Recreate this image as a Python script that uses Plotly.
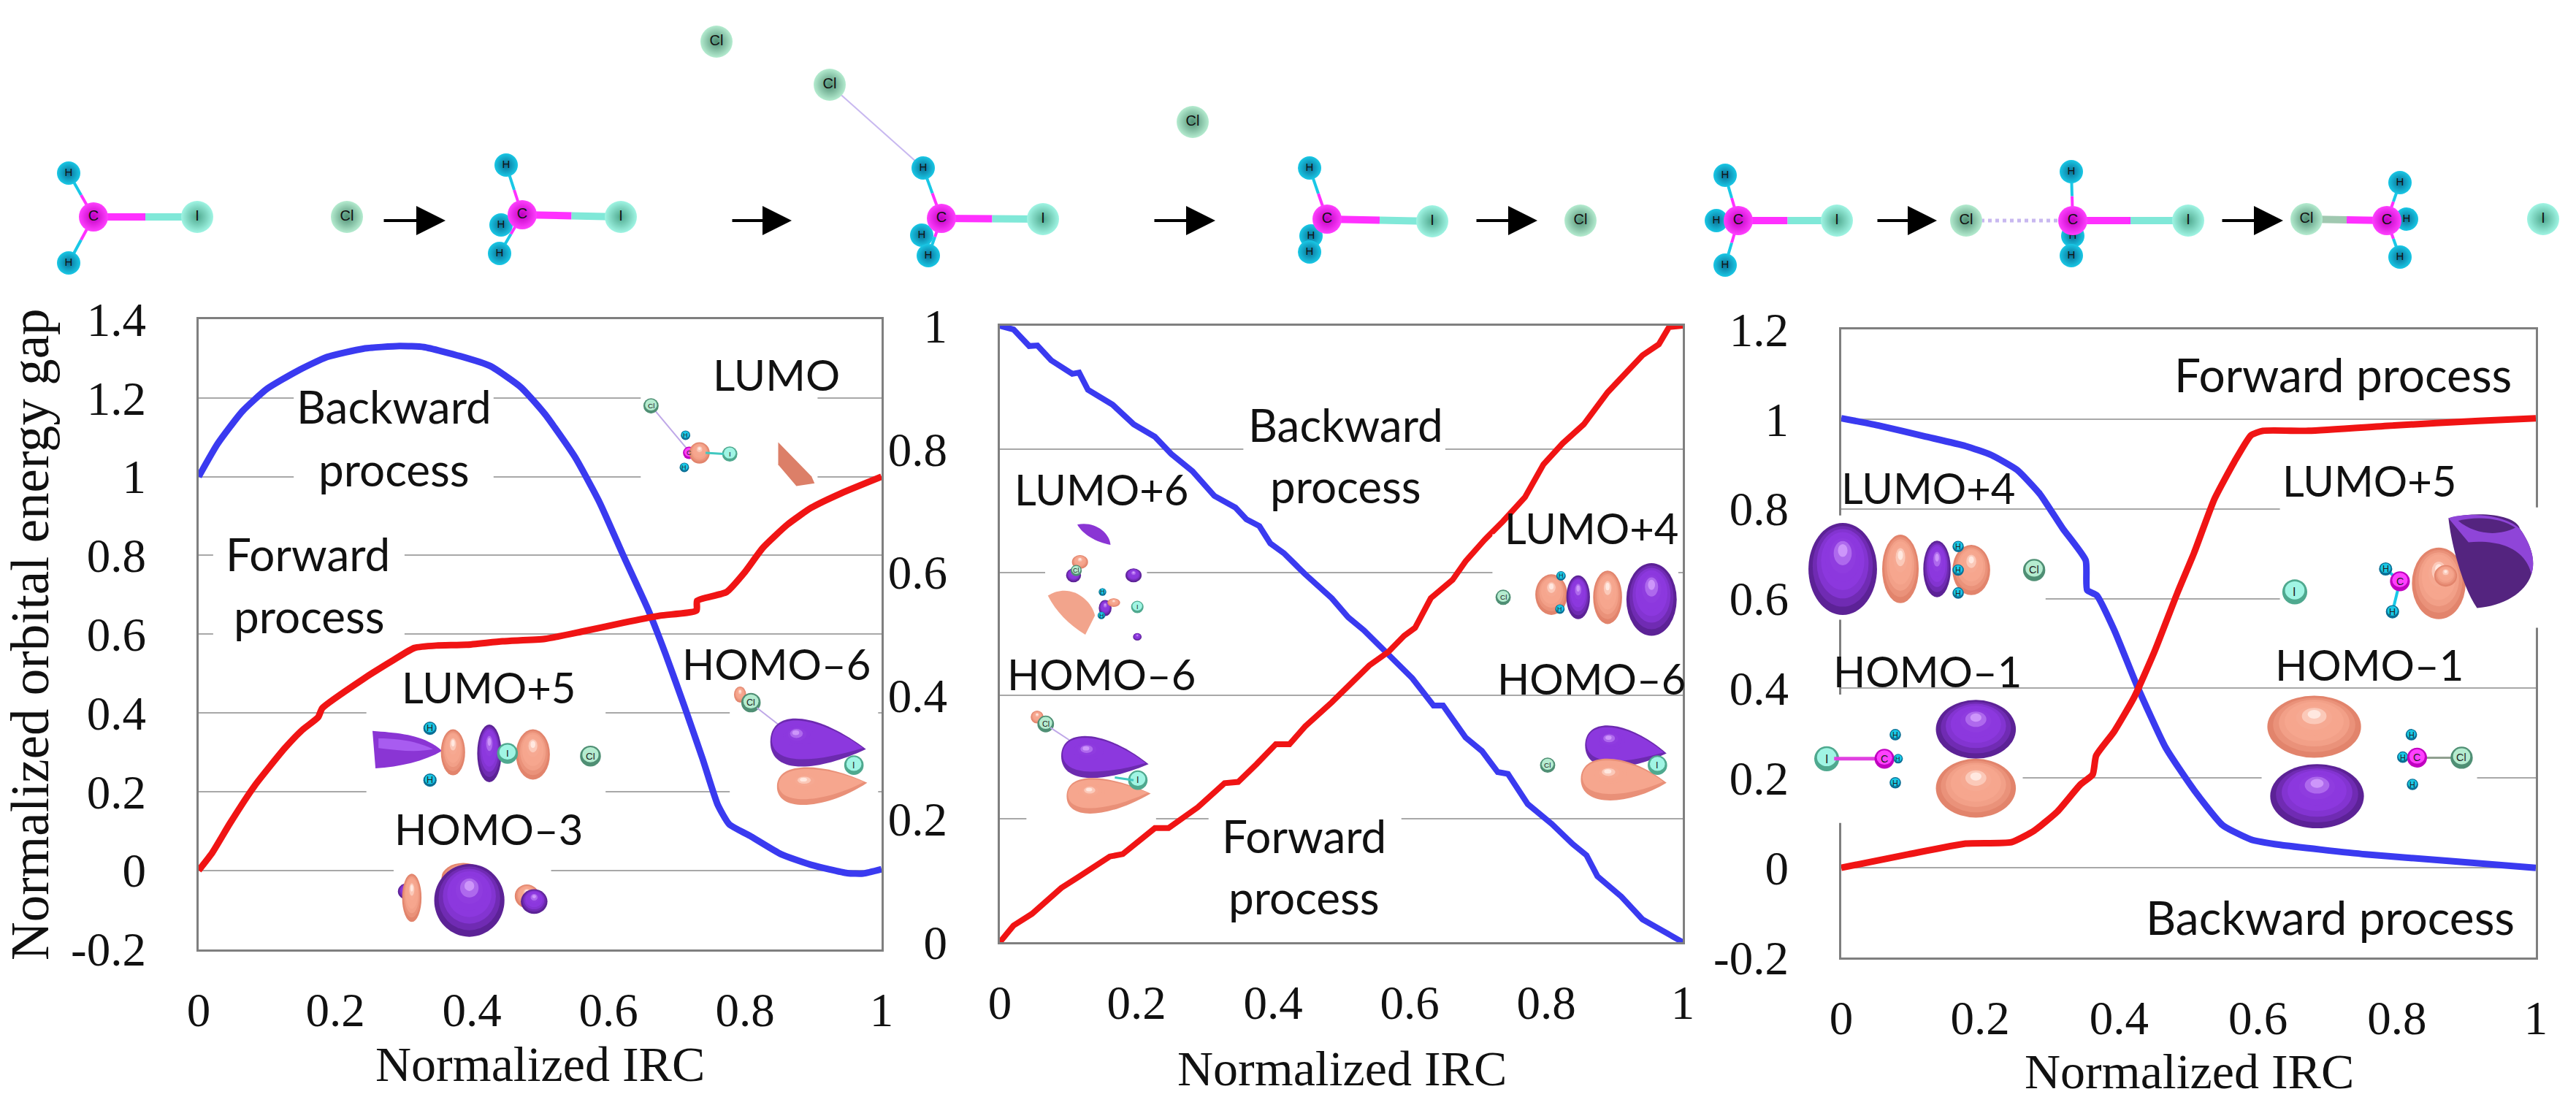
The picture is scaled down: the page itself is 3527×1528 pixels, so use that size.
import plotly.graph_objects as go

W, H = 3527, 1528

# ---------- chart data ----------
p1_blue_x = [0,.028,.064,.1,.144,.188,.241,.294,.33,.383,.427,.472,.507,.551,.587,.622,.658,.684,.711,.738,.76,.777,.809,.853,.897,.95,.973,1]
p1_blue_y = [1,1.084,1.166,1.223,1.268,1.304,1.325,1.332,1.329,1.306,1.281,1.227,1.159,1.05,.935,.799,.663,.548,.418,.283,.167,.117,.086,.041,.014,-.007,-.008,.003]
p1_red_x = [0,.02,.046,.082,.126,.152,.175,.181,.241,.285,.316,.348,.392,.445,.507,.56,.622,.676,.729,.73,.773,.8,.826,.862,.897,.941,1]
p1_red_y = [0,.045,.12,.215,.31,.357,.389,.412,.486,.534,.565,.571,.573,.582,.588,.606,.629,.647,.66,.685,.707,.758,.819,.878,.921,.958,1]

p2_blue_x = [0,.02,.043,.055,.075,.106,.116,.129,.165,.196,.227,.251,.282,.314,.345,.361,.38,.396,.416,.447,.486,.51,.533,.569,.604,.635,.649,.682,.706,.729,.744,.773,.808,.839,.859,.875,.91,.941,.973,1]
p2_blue_y = [1,.994,.967,.968,.944,.922,.924,.896,.872,.84,.82,.792,.764,.724,.705,.686,.675,.647,.631,.597,.558,.527,.506,.467,.428,.384,.384,.332,.31,.276,.273,.224,.192,.159,.141,.107,.074,.037,.016,0]
p2_red_x = [0,.02,.047,.071,.09,.114,.137,.161,.18,.212,.227,.247,.29,.329,.349,.376,.404,.424,.447,.486,.514,.541,.569,.592,.608,.631,.663,.682,.71,.737,.769,.796,.824,.855,.89,.918,.941,.965,.98,1]
p2_red_y = [0,.027,.046,.07,.088,.105,.122,.139,.143,.172,.185,.185,.219,.258,.26,.289,.321,.321,.35,.389,.419,.449,.471,.497,.51,.558,.588,.618,.653,.683,.722,.775,.809,.84,.892,.926,.952,.97,.998,1]

p3_blue_x = [0,.056,.122,.179,.216,.253,.286,.319,.352,.354,.368,.393,.426,.467,.508,.549,.59,.632,.755,.878,1]
p3_blue_y = [1.002,.985,.961,.94,.92,.887,.833,.756,.685,.619,.607,.53,.405,.268,.173,.095,.063,.051,.03,.015,0]
p3_red_x = [0,.097,.179,.245,.278,.311,.344,.362,.367,.393,.422,.451,.484,.508,.537,.566,.59,.607,.673,.796,.918,1]
p3_red_y = [0,.03,.054,.057,.083,.125,.185,.208,.25,.304,.381,.482,.613,.702,.821,.905,.964,.974,.974,.986,.996,1.002]

x_ticks = [0, .2, .4, .6, .8, 1]
x_tick_labels = ["0", "0.2", "0.4", "0.6", "0.8", "1"]
p1_y_ticks = [-.2, 0, .2, .4, .6, .8, 1, 1.2, 1.4]
p1_y_labels = ["-0.2", "0", "0.2", "0.4", "0.6", "0.8", "1", "1.2", "1.4"]
p2_y_ticks = [0, .2, .4, .6, .8, 1]
p2_y_labels = ["0", "0.2", "0.4", "0.6", "0.8", "1"]
p3_y_ticks = [-.2, 0, .2, .4, .6, .8, 1, 1.2]
p3_y_labels = ["-0.2", "0", "0.2", "0.4", "0.6", "0.8", "1", "1.2"]
x_title = "Normalized IRC"
y_title = "Normalized orbital energy gap"

# ---------- layout geometry (pixels) ----------
panels = {
    1: dict(x=(272, 1207), y=(437, 1299.5), r=(-.2, 1.4), t=p1_y_ticks, l=p1_y_labels, sm=True),
    2: dict(x=(1369, 2304), y=(446, 1290), r=(0, 1), t=p2_y_ticks, l=p2_y_labels, sm=False),
    3: dict(x=(2521, 3472), y=(451, 1311), r=(-.2, 1.2), t=p3_y_ticks, l=p3_y_labels, sm=True),
}
BLUE, RED = "#3a3af0", "#f01414"
FRAME, GRID = "#7f7f7f", "#a8a8a8"
SERIF, SANS = "Liberation Serif", "Lato"

fig = go.Figure()
series = {1: (p1_blue_x, p1_blue_y, p1_red_x, p1_red_y),
          2: (p2_blue_x, p2_blue_y, p2_red_x, p2_red_y),
          3: (p3_blue_x, p3_blue_y, p3_red_x, p3_red_y)}
layout = {}
for i, p in panels.items():
    xa, ya = f"xaxis{i}", f"yaxis{i}"
    layout[xa] = dict(domain=[p["x"][0]/W, p["x"][1]/W], range=[0, 1], anchor=f"y{i}", automargin=False,
                      tickmode="array", tickvals=x_ticks, ticktext=x_tick_labels,
                      showgrid=False, zeroline=False, showline=True, mirror=True,
                      linecolor=FRAME, linewidth=3, ticks="", ticklabelstandoff=24,
                      tickfont=dict(family=SERIF, size=65, color="#111"))
    layout[ya] = dict(domain=[1-p["y"][1]/H, 1-p["y"][0]/H], range=list(p["r"]), anchor=f"x{i}", automargin=False,
                      tickmode="array", tickvals=p["t"], ticktext=p["l"],
                      showgrid=True, gridcolor=GRID, gridwidth=2, zeroline=False,
                      showline=True, mirror=True, linecolor=FRAME, linewidth=3,
                      ticks="", ticklabelstandoff=56,
                      tickfont=dict(family=SERIF, size=65, color="#111"))
    bx, by, rx, ry = series[i]
    ax = "x" if i == 1 else f"x{i}"
    ay = "y" if i == 1 else f"y{i}"
    ln = dict(width=9, shape="spline", smoothing=.5) if p["sm"] else dict(width=8)
    fig.add_trace(go.Scatter(x=bx, y=by, mode="lines", xaxis=ax, yaxis=ay, name="Backward process",
                             line=dict(color=BLUE, **ln), showlegend=False))
    fig.add_trace(go.Scatter(x=rx, y=ry, mode="lines", xaxis=ax, yaxis=ay, name="Forward process",
                             line=dict(color=RED, **ln), showlegend=False))

# overlay axes in picture pixels, for the illustrations
layout["xaxis4"] = dict(domain=[0, 1], range=[0, W], visible=False, anchor="y4", fixedrange=True, automargin=False)
layout["yaxis4"] = dict(domain=[0, 1], range=[H, 0], visible=False, anchor="x4", fixedrange=True, automargin=False)

shapes, annots = [], []
REF = dict(xref="x4", yref="y4")

# ---------- helpers ----------
off = {1: (0, 1.206), 2: (1200, 1.3635), 3: (2300, 1.278)}
def px(p, zx): return off[p][0] + zx / off[p][1]
def py(zy): return 380 + zy / 1.366

TONES = {
    "purple": ((92, 34, 150), (140, 56, 222), (205, 150, 250)),
    "salmon": ((226, 132, 108), (246, 166, 142), (255, 232, 224)),
}
def rgb(c): return "rgb(%d,%d,%d)" % tuple(round(v) for v in c)
def ramp(tone, t):
    d, m, l = TONES[tone]
    if t < .35:
        a, b, u = d, m, t/.35
    elif t < .7:
        a, b, u = m, m, 0
    else:
        a, b, u = m, l, (t-.7)/.3
    return rgb([a[k]+(b[k]-a[k])*u for k in range(3)])
def rawell(x0, y0, x1, y1, c):
    shapes.append(dict(type="circle", x0=x0, y0=y0, x1=x1, y1=y1, fillcolor=c,
                       line=dict(width=0), layer="above", **REF))
def shade(tone, cx, cy, w, h, hx, hy, steps=8, start=0):
    # nested ellipses drifting to a highlight point: a simple sphere shading
    for k in range(start, steps):
        t = k/(steps-1)
        s = 1-.86*t
        ccx, ccy = cx+(hx-cx)*t, cy+(hy-cy)*t
        rawell(ccx-w*s/2, ccy-h*s/2, ccx+w*s/2, ccy+h*s/2, ramp(tone, t))
def blob(p, tone, cx, cy, rx, ry):
    x0, x1 = px(p, cx-rx), px(p, cx+rx)
    y0, y1 = py(cy-ry), py(cy+ry)
    shade(tone, (x0+x1)/2, (y0+y1)/2, x1-x0, y1-y0, (x0+x1)/2, y0+(y1-y0)*.3)
def path(p, pts, fill):
    # pts: list of SVG commands with zoom-coordinates
    out = ""
    for cmd in pts:
        c, vals = cmd[0], cmd[1:]
        out += c + " " + " ".join(f"{px(p, vals[k]):.1f},{py(vals[k+1]):.1f}" for k in range(0, len(vals), 2)) + " "
    shapes.append(dict(type="path", path=out + "Z", fillcolor=fill, line=dict(width=0), layer="above", **REF))
def tear(p, tone, cx, cy, rx, ry, tx, ty):
    path(p, [("M", cx-rx, cy), ("C", cx-rx, cy-ry*1.35, cx+rx*.5, cy-ry*1.25, tx, ty),
             ("C", cx+rx*.5, cy+ry*1.25, cx-rx, cy+ry*1.35, cx-rx, cy)], ramp(tone, .12))
    path(p, [("M", cx-rx*.95, cy-ry*.08), ("C", cx-rx*.92, cy-ry*1.22, cx+rx*.5, cy-ry*1.1, tx-rx*.1, ty-ry*.05),
             ("C", cx+rx*.5, cy+ry*.85, cx-rx*.92, cy+ry*1.0, cx-rx*.95, cy-ry*.08)], ramp(tone, .4))
    x0, x1 = px(p, cx-rx*.8), px(p, cx+rx*.8)
    y0, y1 = py(cy-ry*.85), py(cy+ry*.55)
    shade(tone, (x0+x1)/2, (y0+y1)/2, x1-x0, y1-y0, (x0+x1)/2-(x1-x0)*.1, y0+(y1-y0)*.35, start=3)

ATOM = {"H": ("#19c8e6", "#0a6f95", 13), "C": ("#ff40ff", "#c000c0", 17),
        "I": ("#a0f5e4", "#4fa98f", 19), "Cl": ("#b5ecd0", "#4f8f74", 19)}
def atom(p, cx, cy, kind, scale=1.0):
    light, dark, r = ATOM[kind]
    r = r * scale
    x, y = px(p, cx), py(cy)
    rawell(x-r, y-r, x+r, y+r, dark)
    rawell(x-r*.78, y-r*.85, x+r*.78, y+r*.6, light)
    annots.append(dict(x=x, y=y, text=kind, showarrow=False, font=dict(size=max(9, 18*scale), family="Liberation Sans", color="#222"), **REF))
def bond(p, a, b, c="#bfa8e8", w=2):
    shapes.append(dict(type="line", x0=px(p, a[0]), y0=py(a[1]), x1=px(p, b[0]), y1=py(b[1]),
                       line=dict(color=c, width=w), layer="above", **REF))
def mask(p, z0, z1, zy0, zy1):
    shapes.append(dict(type="rect", x0=px(p, z0), x1=px(p, z1), y0=py(zy0), y1=py(zy1),
                       fillcolor="white", line=dict(width=0), layer="above", **REF))

# ---------- white boxes behind labels and insets ----------
for m in [(1, 485, 815, 205, 390), (1, 352, 668, 480, 680), (1, 1058, 1350, 140, 400),
          (1, 605, 1000, 760, 1000), (1, 650, 910, 1000, 1240), (1, 1205, 1450, 690, 1000),
          (2, 685, 1062, 235, 430), (2, 315, 505, 455, 690), (2, 1150, 1497, 480, 700),
          (2, 280, 522, 810, 1022), (2, 620, 980, 1000, 1200),
          (3, 220, 640, 445, 640), (3, 235, 600, 780, 1020), (3, 1018, 1395, 780, 1040),
          (3, 1050, 1510, 430, 655)]:
    mask(*m)

# ---------- panel 1 insets ----------
bond(1, (1075, 240), (1140, 328))
atom(1, 1075, 240, "Cl", .55); atom(1, 1132, 295, "H", .5); atom(1, 1130, 355, "H", .5)
atom(1, 1138, 328, "C", .5); blob(1, "salmon", 1155, 328, 17, 20); atom(1, 1205, 330, "I", .55)
bond(1, (1165, 328), (1195, 330), "#40c8c0", 3)
path(1, [("M", 1285, 308), ("L", 1340, 372), ("L", 1345, 385), ("L", 1315, 390), ("L", 1285, 350)], "#dc7f68")

path(1, [("M", 615, 848), ("C", 660, 852, 700, 855, 730, 885), ("C", 700, 905, 660, 915, 620, 918)], "#8a35d4")
path(1, [("M", 625, 862), ("C", 660, 862, 690, 868, 715, 882), ("C", 690, 888, 660, 885, 625, 880)], "#a85cf0")
blob(1, "salmon", 748, 888, 20, 43); blob(1, "purple", 808, 890, 20, 54)
blob(1, "salmon", 880, 892, 28, 47); atom(1, 838, 890, "I", .75)
atom(1, 710, 843, "H", .7); atom(1, 710, 940, "H", .7); atom(1, 975, 895, "Cl", .75)

blob(1, "purple", 672, 1148, 15, 15); blob(1, "salmon", 680, 1160, 16, 45)
blob(1, "salmon", 765, 1122, 36, 27); blob(1, "purple", 775, 1165, 58, 68)
blob(1, "salmon", 870, 1157, 20, 22); blob(1, "purple", 882, 1167, 22, 23)

blob(1, "salmon", 1222, 780, 10, 15); atom(1, 1240, 795, "Cl", .7); bond(1, (1250, 805), (1290, 840))
tear(1, "purple", 1322, 868, 50, 46, 1430, 882)
tear(1, "salmon", 1335, 952, 52, 36, 1432, 945); atom(1, 1410, 912, "I", .7)

# ---------- panel 2 insets ----------
path(2, [("M", 375, 462), ("C", 405, 455, 435, 475, 437, 500), ("C", 410, 495, 385, 480, 375, 462)], "#8a35d4")
blob(2, "salmon", 380, 532, 15, 13); blob(2, "purple", 368, 557, 14, 13); atom(2, 373, 548, "Cl", .4)
blob(2, "purple", 480, 557, 15, 13); blob(2, "purple", 487, 672, 8, 7)
path(2, [("M", 320, 595), ("C", 360, 570, 400, 600, 408, 632), ("L", 390, 668), ("C", 360, 650, 335, 625, 320, 595)], "#f2a48c")
blob(2, "purple", 427, 618, 12, 15); blob(2, "salmon", 443, 608, 12, 8)
atom(2, 422, 588, "H", .4); atom(2, 420, 632, "H", .4); atom(2, 487, 616, "I", .45)

blob(2, "salmon", 300, 822, 12, 12); atom(2, 316, 835, "Cl", .6); bond(2, (325, 842), (360, 865))
tear(2, "purple", 400, 895, 55, 40, 508, 910)
tear(2, "salmon", 405, 970, 50, 34, 512, 965); atom(2, 488, 940, "I", .7)
bond(2, (445, 935), (480, 940), "#40c8c0", 3)

atom(2, 1170, 598, "Cl", .55); blob(2, "salmon", 1260, 593, 30, 38); blob(2, "purple", 1310, 598, 22, 41)
blob(2, "salmon", 1365, 598, 27, 50); blob(2, "purple", 1447, 602, 47, 68)
atom(2, 1278, 558, "H", .5); atom(2, 1276, 620, "H", .5)

atom(2, 1253, 912, "Cl", .55)
tear(2, "purple", 1375, 875, 52, 40, 1475, 890)
tear(2, "salmon", 1375, 938, 60, 40, 1475, 945); atom(2, 1458, 912, "I", .7)

# ---------- panel 3 insets ----------
blob(3, "purple", 285, 545, 60, 86); blob(3, "salmon", 386, 545, 32, 64); blob(3, "purple", 450, 545, 24, 53)
blob(3, "salmon", 510, 547, 33, 47); atom(3, 487, 503, "H", .6); atom(3, 487, 590, "H", .6)
atom(3, 487, 547, "H", .6); atom(3, 620, 547, "Cl", .8)

atom(3, 1076, 588, "I", .9); bond(3, (1260, 568), (1235, 545), "#19c8e6", 4); bond(3, (1260, 568), (1247, 625), "#19c8e6", 4)
atom(3, 1235, 545, "H", .7); atom(3, 1247, 625, "H", .7); atom(3, 1260, 568, "C", .8)
blob(3, "salmon", 1328, 572, 47, 67); blob(3, "salmon", 1340, 558, 20, 20)
path(3, [("M", 1345, 450), ("C", 1400, 435, 1465, 445, 1470, 470), ("C", 1490, 500, 1498, 530, 1490, 555),
         ("C", 1480, 590, 1440, 615, 1395, 618), ("C", 1370, 580, 1350, 500, 1345, 450)], "#54247f")
path(3, [("M", 1345, 450), ("C", 1370, 440, 1440, 440, 1470, 470), ("C", 1490, 500, 1498, 530, 1490, 555),
         ("C", 1480, 510, 1440, 490, 1380, 495)], "#8f45d8")
path(3, [("M", 1362, 455), ("C", 1395, 445, 1440, 450, 1462, 468), ("C", 1430, 485, 1390, 480, 1362, 455)], "#54247f")

atom(3, 257, 900, "I", .9); bond(3, (270, 900), (350, 900), "#e040e0", 5)
atom(3, 358, 900, "C", .8); atom(3, 377, 855, "H", .6); atom(3, 377, 945, "H", .6); atom(3, 382, 900, "H", .5)
blob(3, "purple", 518, 845, 70, 55); blob(3, "salmon", 518, 955, 70, 55)

blob(3, "salmon", 1110, 840, 82, 58); blob(3, "purple", 1115, 970, 82, 60)
bond(3, (1290, 898), (1355, 898), "#90a090", 3)
atom(3, 1280, 855, "H", .6); atom(3, 1282, 948, "H", .6); atom(3, 1265, 897, "H", .6)
atom(3, 1290, 898, "C", .8); atom(3, 1368, 898, "Cl", .8)

# ---------- text labels ----------
labels = [
    ("Backward", 539, 556, 62), ("process", 539, 642, 62), ("Forward", 421, 758, 62), ("process", 423, 843, 62),
    ("LUMO", 1063, 512, 59), ("LUMO+5", 669, 940, 58), ("HOMO\u20133", 669, 1134, 58), ("HOMO\u20136", 1063, 908, 58),
    ("Backward", 1842, 581, 62), ("process", 1842, 665, 62), ("LUMO+6", 1508, 669, 58), ("HOMO\u20136", 1508, 922, 58),
    ("LUMO+4", 2179, 722, 58), ("HOMO\u20136", 2179, 928, 58), ("Forward", 1785, 1144, 62), ("process", 1785, 1228, 62),
    ("Forward process", 3208, 512, 64), ("LUMO+4", 2640, 667, 58), ("LUMO+5", 3244, 657, 58),
    ("HOMO\u20131", 2639, 918, 58), ("HOMO\u20131", 3244, 909, 58), ("Backward process", 3190, 1255, 64),
]
for t, x, y, s in labels:
    annots.append(dict(x=x, y=y, text=t, showarrow=False, font=dict(family=SANS, size=s, color="#111"), **REF))

# axis titles
for xc, yc in [(739, 1457), (1837, 1463), (2997, 1467)]:
    annots.append(dict(x=xc, y=yc, text=x_title, showarrow=False, font=dict(family=SERIF, size=68, color="#111"), **REF))
annots.append(dict(x=41, y=869, text=y_title, textangle=-90, showarrow=False,
                   font=dict(family=SERIF, size=73, color="#111"), **REF))

# ---------- top row of molecules ----------
mol_atoms = [
    ("H", 94, 237), ("H", 94, 360), ("C", 128, 297), ("I", 270, 297), ("Cl", 475, 297),
    ("H", 693, 226), ("H", 686, 308), ("H", 684, 347), ("C", 715, 294), ("I", 850, 297),
    ("Cl", 981, 57), ("Cl", 1136, 116), ("H", 1264, 230), ("H", 1262, 322), ("H", 1271, 350), ("C", 1289, 299), ("I", 1428, 300),
    ("Cl", 1633, 167), ("H", 1793, 230), ("H", 1795, 323), ("H", 1793, 345), ("C", 1817, 300), ("I", 1961, 303), ("Cl", 2164, 302),
    ("H", 2362, 240), ("H", 2350, 302), ("H", 2362, 363), ("C", 2380, 302), ("I", 2515, 302),
    ("Cl", 2692, 302), ("H", 2836, 235), ("H", 2838, 323), ("H", 2836, 350), ("C", 2838, 302), ("I", 2996, 302),
    ("Cl", 3158, 300), ("H", 3286, 250), ("H", 3295, 300), ("H", 3286, 352), ("C", 3268, 302), ("I", 3482, 300),
]
mol_bonds = [
    ((128, 297), (94, 237), "H"), ((128, 297), (94, 360), "H"), ((128, 297), (270, 297), "I"),
    ((715, 294), (693, 226), "H"), ((715, 294), (684, 347), "H"), ((715, 294), (850, 297), "I"),
    ((1289, 299), (1264, 230), "H"), ((1289, 299), (1271, 350), "H"), ((1289, 299), (1428, 300), "I"),
    ((1817, 300), (1793, 230), "H"), ((1817, 300), (1793, 345), "H"), ((1817, 300), (1961, 303), "I"),
    ((2380, 302), (2362, 240), "H"), ((2380, 302), (2362, 363), "H"), ((2380, 302), (2515, 302), "I"),
    ((2838, 302), (2836, 235), "H"), ((2838, 302), (2836, 350), "H"), ((2838, 302), (2996, 302), "I"),
    ((3268, 302), (3286, 250), "H"), ((3268, 302), (3286, 352), "H"), ((3268, 302), (3158, 300), "Cl"),
]
for a, b, k in mol_bonds:
    mx, my = (a[0]+b[0])/2, (a[1]+b[1])/2
    wd = 4 if k == "H" else 10
    col = {"H": "#19c8e6", "I": "#80e8d8", "Cl": "#a0c8b0"}[k]
    shapes.append(dict(type="line", x0=a[0], y0=a[1], x1=mx, y1=my, line=dict(color="#ff30ff", width=wd), layer="below", **REF))
    shapes.append(dict(type="line", x0=mx, y0=my, x1=b[0], y1=b[1], line=dict(color=col, width=wd), layer="below", **REF))
shapes.append(dict(type="line", x0=1136, y0=116, x1=1264, y1=230, line=dict(color="#c8b8f0", width=2), layer="below", **REF))
shapes.append(dict(type="line", x0=2692, y0=302, x1=2838, y1=302, line=dict(color="#c8b8f0", width=5, dash="dot"), layer="below", **REF))

for kind in ATOM:
    pts = [a for a in mol_atoms if a[0] == kind]
    light, dark, r = ATOM[kind]
    fig.add_trace(go.Scatter(
        x=[a[1] for a in pts], y=[a[2] for a in pts], xaxis="x4", yaxis="y4", mode="markers+text",
        text=[kind]*len(pts), textposition="middle center", showlegend=False,
        textfont=dict(family="Liberation Sans", size=20 if kind != "H" else 15, color="#111"),
        marker=dict(size=2*r+6, color=light, gradient=dict(type="radial", color=dark), line=dict(width=0))))

arrow_spans = [(524, 610), (1001, 1084), (1579, 1664), (2020, 2105), (2569, 2652), (3041, 3126)]
for x0, x1 in arrow_spans:
    annots.append(dict(x=x1, y=302, ax=x0, ay=302, axref="x4", ayref="y4", showarrow=True, arrowhead=2,
                       arrowsize=2, arrowwidth=4, arrowcolor="#000", text="", **REF))

fig.update_layout(width=W, height=H, margin=dict(l=0, r=0, t=0, b=0), paper_bgcolor="white",
                  plot_bgcolor="rgba(0,0,0,0)", showlegend=False, shapes=shapes, annotations=annots, **layout)
fig.write_html("out.html", post_script="document.body.style.margin='0';", config=dict(displayModeBar=False))
